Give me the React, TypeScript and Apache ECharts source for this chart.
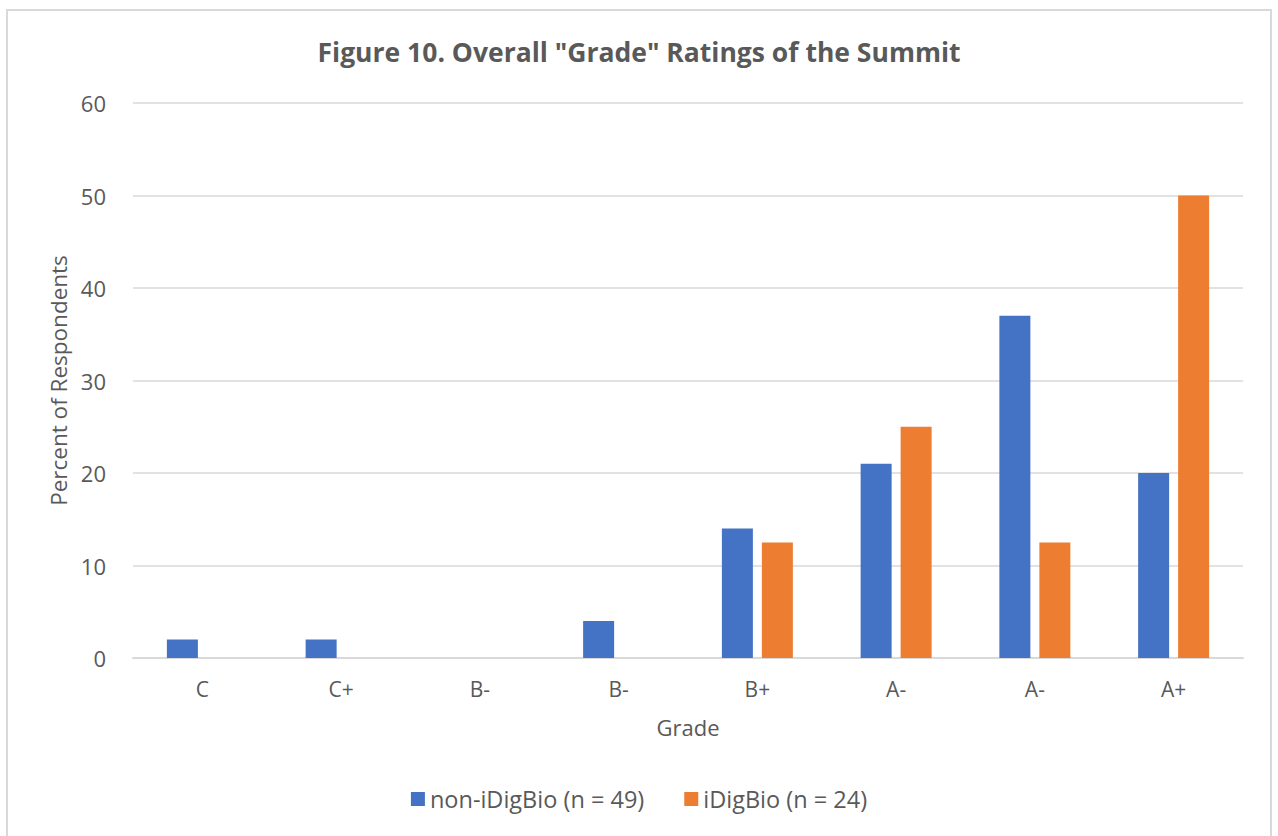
import React, { useEffect, useRef } from "react";
import * as echarts from "echarts";

const categories = ["C", "C+", "B-", "B-", "B+", "A-", "A-", "A+"];
const nonIDigBio = [2, 2, 0, 4, 14, 21, 37, 20];
const iDigBio = [0, 0, 0, 0, 12.5, 25, 12.5, 50];
const seriesNames = ["non-iDigBio (n = 49)", "iDigBio (n = 24)"];

const FONT = "'Open Sans', 'Noto Sans', sans-serif";
const TXT = "#595959";

export default function App() {
  const ref = useRef<HTMLDivElement>(null);
  useEffect(() => {
    if (!ref.current) return;
    const chart = echarts.init(ref.current, undefined, { renderer: "svg" });
    chart.setOption({
      animation: false,
      backgroundColor: "#ffffff",
      textStyle: { fontFamily: FONT, color: TXT },
      title: {
        text: 'Figure 10. Overall "Grade" Ratings of the Summit',
        left: "center",
        top: 33,
        textStyle: { fontFamily: FONT, fontSize: 26.5, fontWeight: "bold", color: TXT },
      },
      graphic: [
        {
          type: "rect",
          shape: { x: 7, y: 10, width: 1264, height: 840 },
          style: { fill: "none", stroke: "#d9d9d9", lineWidth: 2 },
          silent: true,
        },
      ],
      grid: { left: 133, right: 35, top: 103, bottom: 178, containLabel: false },
      legend: {
        bottom: 20,
        left: "center",
        itemWidth: 14,
        itemHeight: 14,
        itemGap: 40,
        icon: "rect",
        textStyle: { fontFamily: FONT, fontSize: 23.5, color: TXT },
        data: seriesNames,
      },
      xAxis: {
        type: "category",
        data: categories,
        name: "Grade",
        nameLocation: "middle",
        nameGap: 58,
        nameTextStyle: { fontFamily: FONT, fontSize: 22, color: TXT },
        axisLine: { lineStyle: { color: "#d9d9d9", width: 2 } },
        axisTick: { show: false },
        axisLabel: { fontFamily: FONT, fontSize: 21, color: TXT, margin: 20 },
      },
      yAxis: {
        type: "value",
        min: 0,
        max: 60,
        interval: 10,
        name: "Percent of Respondents",
        nameLocation: "middle",
        nameGap: 61,
        nameTextStyle: { fontFamily: FONT, fontSize: 22.5, color: TXT },
        axisLine: { show: false },
        axisTick: { show: false },
        axisLabel: { fontFamily: FONT, fontSize: 22, color: TXT, margin: 27 },
        splitLine: { lineStyle: { color: "#d9d9d9", width: 1.5 } },
      },
      series: [
        {
          name: seriesNames[0],
          type: "bar",
          data: nonIDigBio,
          barWidth: 31,
          barGap: "29%",
          itemStyle: { color: "#4472C4" },
        },
        {
          name: seriesNames[1],
          type: "bar",
          data: iDigBio,
          barWidth: 31,
          barGap: "29%",
          itemStyle: { color: "#ED7D31" },
        },
      ],
    });
    return () => chart.dispose();
  }, []);
  return (
    <div
      ref={ref}
      style={{ position: "absolute", left: 0, top: 0, width: 1278, height: 836 }}
    />
  );
}
